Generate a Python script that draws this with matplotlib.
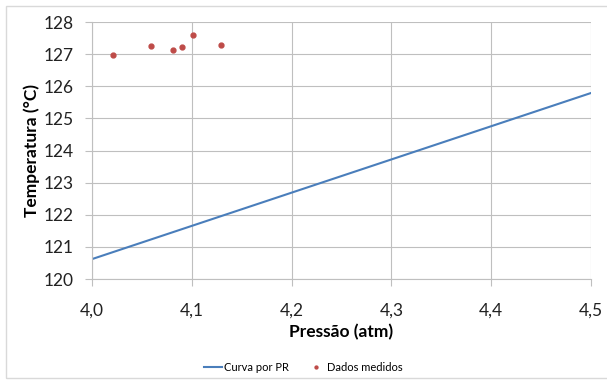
import numpy as np
import matplotlib.pyplot as plt
from matplotlib.patches import Rectangle

plt.rcParams['font.family'] = ['Lato', 'DejaVu Sans']

# curve (end points of the straight line)
curva_x = [4.0, 4.5]
curva_y = [120.62, 125.79]

# measured data
medidos_x = [4.021, 4.059, 4.081, 4.090, 4.101, 4.129]
medidos_y = [126.97, 127.25, 127.13, 127.22, 127.60, 127.28]

xticks = [4.0, 4.1, 4.2, 4.3, 4.4, 4.5]
yticks = [120, 121, 122, 123, 124, 125, 126, 127, 128]

fig = plt.figure(figsize=(6.07, 3.84), dpi=100)
ax = fig.add_axes([0.1516, 0.2734, 0.822, 0.6693])

ax.plot(curva_x, curva_y, color='#4A7EBB', lw=1.5, label='Curva por PR')
ax.plot(medidos_x, medidos_y, 'o', color='#BE4B48', ms=3.5, label='Dados medidos')

ax.set_xlim(4.0, 4.5)
ax.set_ylim(120, 128)
ax.set_xticks(xticks)
ax.set_xticklabels([f'{t:.1f}'.replace('.', ',') for t in xticks])
ax.set_yticks(yticks)
ax.grid(True, color='#BFBFBF', lw=0.8)
ax.set_axisbelow(True)
for s in ['top', 'right']:
    ax.spines[s].set_visible(False)
for s in ['left', 'bottom']:
    ax.spines[s].set_color('#BFBFBF')
ax.tick_params(colors='#BFBFBF', labelcolor='#222222', labelsize=12.5, length=5)
ax.tick_params(axis='x', pad=12)
ax.tick_params(axis='y', pad=8)

ax.set_xlabel('Pressão (atm)', fontsize=12.5, fontweight='bold', labelpad=4)
ax.set_ylabel('Temperatura (°C)', fontsize=12.5, fontweight='bold', labelpad=3)

fig.legend(loc='center', bbox_to_anchor=(0.5, 0.043), ncol=2, frameon=False,
           fontsize=8, handlelength=1.6, columnspacing=1.6, handletextpad=0.2,
           markerscale=0.6)

fig.patches.append(Rectangle((6 / 607, 6 / 384), 1.0, 1 - 12 / 384, transform=fig.transFigure,
                             fill=False, edgecolor='#D9D9D9', lw=1))

fig.savefig('out.png', dpi=100)
